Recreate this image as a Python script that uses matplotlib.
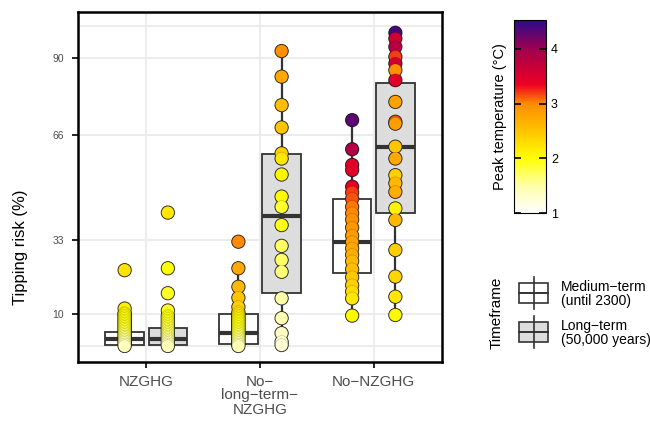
import matplotlib
matplotlib.use("Agg")
import matplotlib.pyplot as plt
import numpy as np
from matplotlib.colors import LinearSegmentedColormap, Normalize
from matplotlib.patches import Rectangle
from matplotlib.collections import EllipseCollection

plt.rcParams['font.family'] = ['Liberation Sans', 'DejaVu Sans']

# categories and timeframes
categories = ["NZGHG", "No\u2212\nlong\u2212term\u2212\nNZGHG", "No\u2212NZGHG"]
timeframes = ["Medium\u2212term\n(until 2300)", "Long\u2212term\n(50,000 years)"]
box_fills = ["white", "#DDDDDD"]

# tipping risk (%) and peak temperature (C) per category / timeframe
nz_med_risk = [23.7, 11.7, 10.3, 10.0, 9.5, 9.0, 8.5, 8.0, 7.5, 7.0, 6.5, 6.0, 5.5,
               5.0, 4.5, 4.0, 3.5, 3.0, 2.5, 2.0, 1.5, 1.0, 0.5, 0.0]
nz_med_temp = [2.25, 2.12, 2.1, 2.08, 2.06, 2.04, 2.02, 2.0, 1.98, 1.96, 1.94, 1.92, 1.9,
               1.87, 1.84, 1.8, 1.76, 1.72, 1.67, 1.62, 1.56, 1.5, 1.45, 1.4]
nz_long_risk = [41.7, 24.3, 16.5, 11.1, 9.5, 9.0, 8.5, 8.0, 7.5, 7.0, 6.5, 6.0, 5.5,
                5.0, 4.5, 4.0, 3.5, 3.0, 2.5, 2.0, 1.5, 1.0, 0.5, 0.0]
nz_long_temp = [2.2, 2.0, 1.9, 1.9, 2.0, 1.98, 1.96, 1.94, 1.92, 1.9, 1.88, 1.86, 1.84,
                1.81, 1.78, 1.75, 1.72, 1.68, 1.64, 1.6, 1.55, 1.5, 1.45, 1.4]

nlt_med_risk = [32.6, 24.3, 18.5, 15.1, 12.2, 10.6, 10.0, 9.5, 9.0, 8.5, 8.0, 7.5,
                7.0, 6.5, 6.0, 5.5, 5.0, 4.5, 4.0, 3.5, 3.0, 2.5, 2.0, 1.5, 1.0, 0.5, 0.0]
nlt_med_temp = [3.0, 2.75, 2.6, 2.5, 2.4, 2.3, 2.2, 2.15, 2.1, 2.08, 2.05, 2.03,
                2.0, 1.98, 1.96, 1.93, 1.9, 1.87, 1.83, 1.79, 1.75, 1.7, 1.65, 1.6, 1.55, 1.5, 1.45]
nlt_long_risk = [92.2, 84.2, 75.3, 68.3, 60.2, 58.6, 53.6, 46.7, 43.5, 37.8,
                 31.3, 26.9, 23.2, 14.9, 8.7, 4.0, 1.3, 0.3]
nlt_long_temp = [2.95, 2.75, 2.55, 2.5, 2.4, 2.2, 2.1, 2.05, 1.85, 1.95,
                 1.7, 1.7, 1.65, 1.5, 1.45, 1.35, 1.3, 1.25]

nn_med_risk = [70.6, 61.5, 56.6, 55.0, 49.8, 48.0, 46.0, 43.5, 41.5, 39.5, 37.0,
               34.5, 32.5, 30.5, 28.5, 26.5, 24.0, 21.5, 19.0, 17.0, 14.9, 9.5]
nn_med_temp = [4.3, 3.85, 3.45, 3.45, 3.4, 3.2, 3.15, 3.05, 3.0, 2.95, 2.9,
               2.85, 2.82, 2.75, 2.7, 2.6, 2.55, 2.45, 2.4, 2.3, 2.2, 2.05]
nn_long_risk = [97.9, 96.1, 93.5, 90.4, 88.3, 86.2, 83.1, 76.3, 70.1, 69.5,
                62.3, 58.6, 53.4, 50.9, 48.2, 43.0, 39.4, 30.0, 21.7, 15.4, 9.7]
nn_long_temp = [4.4, 3.6, 3.8, 3.2, 3.6, 2.95, 3.45, 2.8, 3.15, 2.85,
                2.5, 2.75, 2.4, 2.6, 2.7, 2.1, 2.6, 2.4, 2.35, 2.2, 2.05]

risks = [[nz_med_risk, nz_long_risk], [nlt_med_risk, nlt_long_risk], [nn_med_risk, nn_long_risk]]
temps = [[nz_med_temp, nz_long_temp], [nlt_med_temp, nlt_long_temp], [nn_med_temp, nn_long_temp]]

# box stats: q1, median, q3, whisker low, whisker high
box_q1 = [[0.3, 0.3], [0.6, 16.7], [22.7, 41.5]]
box_med = [[2.1, 2.1], [4.2, 40.7], [32.6, 62.3]]
box_q3 = [[4.5, 5.7], [10.0, 59.9], [45.8, 82.1]]
box_lo = [[0.0, 0.0], [0.0, 0.3], [9.5, 9.7]]
box_hi = [[10.5, 11.1], [24.3, 92.2], [70.6, 97.9]]

y_ticks = [10, 33, 66, 90]
grid_y = [0, 10, 33, 66, 90, 100]

# colour scale for peak temperature
temp_min, temp_max = 1.0, 4.53
stops = [(1.0, "#FFFFFF"), (1.5, "#FFFFA8"), (2.0, "#FFFF00"), (2.5, "#FFC400"),
         (3.0, "#FF8C00"), (3.35, "#EE0022"), (4.0, "#A0004E"), (4.53, "#2A0A8C")]
cmap = LinearSegmentedColormap.from_list(
    "peak", [((t - temp_min) / (temp_max - temp_min), c) for t, c in stops])
norm = Normalize(temp_min, temp_max)

fig = plt.figure(figsize=(6.5, 4.25), dpi=100)
ax = fig.add_axes([78 / 650, 63 / 425, 364 / 650, 350 / 425])

offset = 0.19
for i in range(3):
    for j in range(2):
        pos = i + 1 + (offset if j == 1 else -offset)
        stats = [dict(q1=box_q1[i][j], med=box_med[i][j], q3=box_q3[i][j],
                      whislo=box_lo[i][j], whishi=box_hi[i][j], fliers=[])]
        ax.bxp(stats, positions=[pos], widths=0.34, showfliers=False, showcaps=False,
               patch_artist=True,
               boxprops=dict(facecolor=box_fills[j], edgecolor="#333333", linewidth=1.3),
               medianprops=dict(color="#333333", linewidth=3),
               whiskerprops=dict(color="#333333", linewidth=1.6), zorder=2)
        pts = np.column_stack([np.full(len(risks[i][j]), pos), risks[i][j]])
        n = len(pts)
        # outline pass, then fill pass so dense stacks merge
        outline = EllipseCollection(np.full(n, 14.2), np.full(n, 14.2), np.zeros(n),
                                    units="dots", offsets=pts, offset_transform=ax.transData,
                                    facecolors="#222222", linewidths=0, zorder=3)
        fill = EllipseCollection(np.full(n, 12.6), np.full(n, 12.6), np.zeros(n),
                                 units="dots", offsets=pts, offset_transform=ax.transData,
                                 cmap=cmap, norm=norm, edgecolors=(0, 0, 0, 0.25),
                                 linewidths=0.4, zorder=4)
        fill.set_array(np.asarray(temps[i][j]))
        ax.add_collection(outline)
        ax.add_collection(fill)

ax.set_xlim(0.4, 3.6)
ax.set_ylim(-5, 104.4)
ax.set_xticks([1, 2, 3])
ax.set_xticklabels(categories, fontsize=11, color="#4D4D4D", linespacing=1.0)
ax.set_yticks(y_ticks)
ax.set_yticklabels([str(t) for t in y_ticks], fontsize=7.5, color="#4D4D4D")
ax.tick_params(axis="both", length=4, width=1.2, color="black")
ax.tick_params(axis="y", pad=6)
ax.tick_params(axis="x", pad=5)
for v in grid_y:
    ax.axhline(v, color="#EBEBEB", linewidth=1.3, zorder=0)
for x in [1, 2, 3]:
    ax.axvline(x, color="#EBEBEB", linewidth=1.3, zorder=0)
for s in ax.spines.values():
    s.set_linewidth(1.8)
ax.text(-0.159, 0.329, "Tipping risk (%)", rotation=90, transform=ax.transAxes,
        ha="center", va="center", fontsize=12)

# colorbar
cax = fig.add_axes([514 / 650, 212 / 425, 32 / 650, 193 / 425])
sm = plt.cm.ScalarMappable(norm=norm, cmap=cmap)
cb = fig.colorbar(sm, cax=cax, ticks=[1, 2, 3, 4])
cb.outline.set_linewidth(0.8)
cax.tick_params(direction="in", left=True, right=True, length=5, width=1.2,
                color="black", labelsize=9)

# timeframe legend and colorbar title
lax = fig.add_axes([0, 0, 1, 1])
lax.set_xlim(0, 650)
lax.set_ylim(425, 0)
lax.axis("off")
lax.text(500, 117, "Peak temperature (\u00b0C)", rotation=90, ha="center", va="center",
         fontsize=10.5)
lax.text(497, 313, "Timeframe", rotation=90, ha="center", va="center", fontsize=11)
for k, (yc, label) in enumerate(zip([293, 332], timeframes)):
    lax.plot([533.5, 533.5], [yc - 16, yc + 16], color="#333333", linewidth=1.2)
    lax.add_patch(Rectangle((519, yc - 10), 29, 20, facecolor=box_fills[k],
                            edgecolor="#333333", linewidth=1.2))
    lax.plot([519, 548], [yc, yc], color="#333333", linewidth=1.4)
    lax.text(561, yc + 1, label, ha="left", va="center", fontsize=10, linespacing=1.0)

fig.savefig("out.png", dpi=100)
